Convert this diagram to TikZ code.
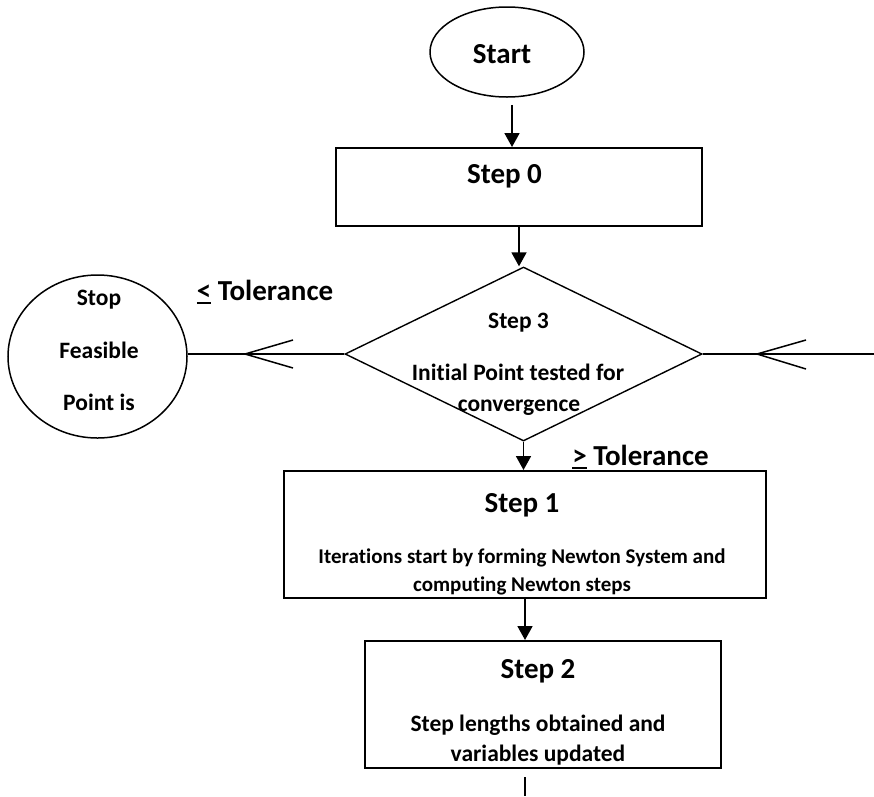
\documentclass[tikz,border=0pt]{standalone}
\usepackage{fontspec}
\setmainfont{Carlito}[Ligatures={NoCommon}]
\usetikzlibrary{shapes.geometric,arrows.meta}
\newsavebox\ulbox
\newcommand\ulsym[1]{\sbox\ulbox{#1}\rlap{\rule[-4pt]{\wd\ulbox}{2pt}}\usebox\ulbox}
\begin{document}
\begin{tikzpicture}[x=1pt,y=-1pt,
  every node/.style={font=\bfseries},
  big/.style={font=\bfseries\fontsize{29}{31}\selectfont, inner sep=0, anchor=base},
  mid/.style={font=\bfseries\fontsize{23.5}{26}\selectfont, inner sep=0, anchor=base},
  small/.style={font=\bfseries\fontsize{21}{23}\selectfont, inner sep=0, anchor=base},
  boxnode/.style={draw, line width=2pt, inner sep=0},
  arr/.style={line width=1.8pt, -{Triangle[length=14pt,width=15pt]}},
  conn/.style={line width=1.5pt}]
\useasboundingbox (0,0) rectangle (874,796);

% shapes
\node[draw, ellipse, line width=1.5pt, minimum width=154pt, minimum height=90pt, inner sep=0] (start) at (507,52) {};
\node[boxnode, minimum width=366pt, minimum height=78pt] (step0) at (519,187) {};
\node[draw, diamond, line width=1.4pt, minimum width=357pt, minimum height=174pt, inner sep=0] (d) at (523.5,354) {};
\node[draw, ellipse, line width=1.5pt, minimum width=179pt, minimum height=163pt, inner sep=0] (stop) at (97.5,356.5) {};
\node[boxnode, minimum width=482pt, minimum height=127pt] (s1) at (525,534.5) {};
\node[boxnode, minimum width=356pt, minimum height=127pt] (s2) at (543,704.5) {};

% texts
\node[big] (tstart) at (502,63) {Start};
\node[big] (t0) at (504.5,183) {Step 0};
\node[mid] (t3) at (518.5,328.5) {Step 3};
\node[mid] (t3a) at (518,380) {Initial Point tested for};
\node[mid] (t3b) at (519,411) {convergence};
\node[mid] (tstop) at (99,305.5) {Stop};
\node[mid] (tfeas) at (99,358) {Feasible};
\node[mid] (tpoint) at (99,410) {Point is};
\node[big] (tle) at (265,300) {\ulsym{<} Tolerance};
\node[big] (tge) at (640.5,465) {\ulsym{>} Tolerance};
\node[big] (t1) at (522,512) {Step 1};
\node[small] (t1a) at (522,563) {Iterations start by forming Newton System and};
\node[small] (t1b) at (522,591) {computing Newton steps};
\node[big] (t2) at (538,678.7) {Step 2};
\node[mid] (t2a) at (538,731) {Step lengths obtained and};
\node[mid] (t2b) at (538,761) {variables updated};

% connectors
\coordinate (a0) at ([xshift=5pt,yshift=-7pt]start.south);
\draw[arr] (a0) -- (a0 |- step0.north);
\draw[arr] (step0.south) -- (step0.south |- d.north);
\draw[arr] (d.south) -- (d.south |- s1.north);
\draw[arr] (s1.south) -- (s1.south |- s2.north);
\coordinate (b1) at (525,777);
\coordinate (b2) at (525,796);
\draw[conn] (b1) -- (b2);

% left branch
\draw[conn] (d.west) -- (d.west -| stop.east);
\coordinate (lc) at (245,354);
\draw[conn] (293,340) -- (lc) -- (293,368);

% right incoming
\coordinate (rin) at (874,354);
\draw[conn] (rin) -- (d.east);
\coordinate (rc) at (757,354);
\draw[conn] (806,340) -- (rc) -- (806,369);
\end{tikzpicture}
\end{document}
